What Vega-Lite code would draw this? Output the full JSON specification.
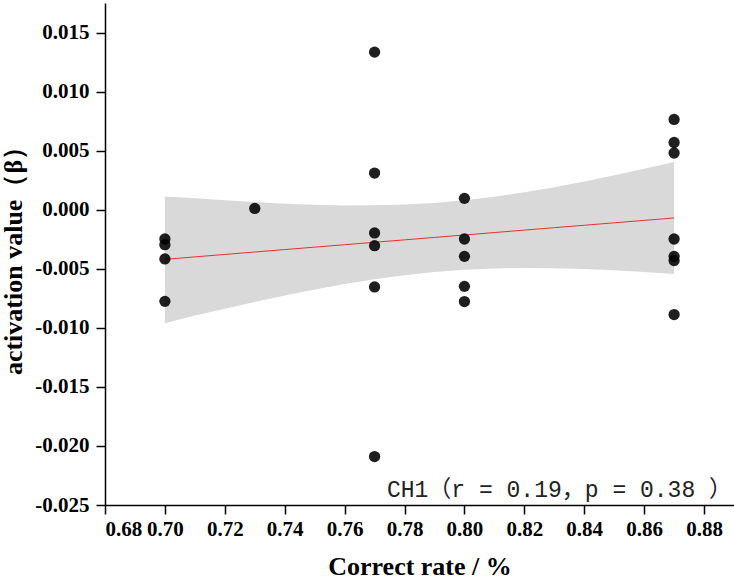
{
  "$schema": "https://vega.github.io/schema/vega-lite/v6.json",
  "width": 629,
  "height": 502,
  "autosize": {"type": "none"},
  "padding": {"left": 105, "top": 3, "right": 0, "bottom": 78},
  "background": "white",
  "config": {
    "view": {"stroke": null},
    "axis": {
      "domainColor": "black",
      "domainWidth": 1.5,
      "tickColor": "black",
      "tickWidth": 1.5,
      "grid": false,
      "labelFont": "Liberation Serif",
      "labelFontWeight": "bold",
      "labelFontSize": 21,
      "labelColor": "black",
      "labelOverlap": false,
      "titleFont": "Liberation Serif",
      "titleFontWeight": "bold",
      "titleFontSize": 26,
      "titleColor": "black"
    }
  },
  "datasets": {
    "points": [
      {"x": 0.70, "y": -0.00248},
      {"x": 0.70, "y": -0.00296},
      {"x": 0.70, "y": -0.00417},
      {"x": 0.70, "y": -0.00776},
      {"x": 0.73, "y": 0.00011},
      {"x": 0.77, "y": 0.01334},
      {"x": 0.77, "y": 0.0031},
      {"x": 0.77, "y": -0.00197},
      {"x": 0.77, "y": -0.00305},
      {"x": 0.77, "y": -0.00654},
      {"x": 0.77, "y": -0.0209},
      {"x": 0.80, "y": 0.00096},
      {"x": 0.80, "y": -0.00248},
      {"x": 0.80, "y": -0.00395},
      {"x": 0.80, "y": -0.00649},
      {"x": 0.80, "y": -0.00778},
      {"x": 0.87, "y": 0.00764},
      {"x": 0.87, "y": 0.00569},
      {"x": 0.87, "y": 0.0048},
      {"x": 0.87, "y": -0.00248},
      {"x": 0.87, "y": -0.00395},
      {"x": 0.87, "y": -0.00431},
      {"x": 0.87, "y": -0.00888}
    ],
    "fit": [
      {"x": 0.70, "fit": -0.0042, "lower": -0.00962, "upper": 0.00112},
      {"x": 0.71, "fit": -0.003994, "lower": -0.008965, "upper": 0.000977},
      {"x": 0.72, "fit": -0.003788, "lower": -0.008376, "upper": 0.0008},
      {"x": 0.73, "fit": -0.003582, "lower": -0.007807, "upper": 0.000643},
      {"x": 0.74, "fit": -0.003376, "lower": -0.007266, "upper": 0.000514},
      {"x": 0.75, "fit": -0.00317, "lower": -0.006758, "upper": 0.000418},
      {"x": 0.76, "fit": -0.002964, "lower": -0.006293, "upper": 0.000365},
      {"x": 0.77, "fit": -0.002758, "lower": -0.005883, "upper": 0.000367},
      {"x": 0.78, "fit": -0.002552, "lower": -0.005539, "upper": 0.000435},
      {"x": 0.79, "fit": -0.002346, "lower": -0.005269, "upper": 0.000577},
      {"x": 0.80, "fit": -0.00214, "lower": -0.005079, "upper": 0.000799},
      {"x": 0.81, "fit": -0.001934, "lower": -0.004967, "upper": 0.001099},
      {"x": 0.82, "fit": -0.001728, "lower": -0.004926, "upper": 0.00147},
      {"x": 0.83, "fit": -0.001522, "lower": -0.004947, "upper": 0.001903},
      {"x": 0.84, "fit": -0.001316, "lower": -0.005017, "upper": 0.002385},
      {"x": 0.85, "fit": -0.00111, "lower": -0.005127, "upper": 0.002907},
      {"x": 0.86, "fit": -0.000904, "lower": -0.005268, "upper": 0.00346},
      {"x": 0.87, "fit": -0.000698, "lower": -0.00544, "upper": 0.00404}
    ]
  },
  "layer": [
    {
      "data": {"name": "fit"},
      "mark": {"type": "area", "color": "#d9d9d9", "opacity": 1},
      "encoding": {
        "x": {
          "field": "x", "type": "quantitative",
          "scale": {"domain": [0.68, 0.89], "nice": false, "zero": false},
          "axis": {
            "title": "Correct rate / %",
            "titlePadding": 14,
            "values": [0.68, 0.69, 0.70, 0.71, 0.72, 0.73, 0.74, 0.75, 0.76, 0.77, 0.78, 0.79, 0.80, 0.81, 0.82, 0.83, 0.84, 0.85, 0.86, 0.87, 0.88, 0.89],
            "format": ".2f",
            "labelExpr": "round(datum.value*100) % 2 == 1 ? '' : datum.label",
            "tickSize": {"condition": {"test": "round(datum.value*100) % 2 == 1", "value": 5}, "value": 9},
            "labelPadding": 4
          }
        },
        "y": {
          "field": "lower", "type": "quantitative",
          "scale": {"domain": [-0.025, 0.0175], "nice": false, "zero": false},
          "axis": {
            "title": "activation value（β）",
            "titlePadding": 8,
            "values": [-0.025, -0.0225, -0.02, -0.0175, -0.015, -0.0125, -0.01, -0.0075, -0.005, -0.0025, 0, 0.0025, 0.005, 0.0075, 0.01, 0.0125, 0.015, 0.0175],
            "format": ".3f",
            "labelExpr": "round(datum.value*10000) % 50 != 0 ? '' : replace(datum.label, '−', '-')",
            "tickSize": {"condition": {"test": "round(datum.value*10000) % 50 != 0", "value": 5}, "value": 9},
            "labelPadding": 7
          }
        },
        "y2": {"field": "upper"}
      }
    },
    {
      "data": {"name": "fit"},
      "mark": {"type": "line", "color": "#e8302c", "strokeWidth": 1},
      "encoding": {
        "x": {"field": "x", "type": "quantitative"},
        "y": {"field": "fit", "type": "quantitative", "title": "activation value（β）"}
      }
    },
    {
      "data": {"name": "points"},
      "mark": {"type": "circle", "size": 127, "color": "black", "opacity": 0.88},
      "encoding": {
        "x": {"field": "x", "type": "quantitative"},
        "y": {"field": "y", "type": "quantitative", "title": "activation value（β）"}
      }
    },
    {
      "data": {"values": [{"label": "CH1（r = 0.19，p = 0.38 ）"}]},
      "mark": {"type": "text", "align": "right", "baseline": "bottom", "dy": -3, "dx": -2, "font": "'Liberation Mono', 'Noto Sans CJK SC'", "fontSize": 23, "color": "#222222"},
      "encoding": {
        "x": {"datum": 0.89, "type": "quantitative"},
        "y": {"datum": -0.025, "type": "quantitative"},
        "text": {"field": "label"}
      }
    }
  ]
}
